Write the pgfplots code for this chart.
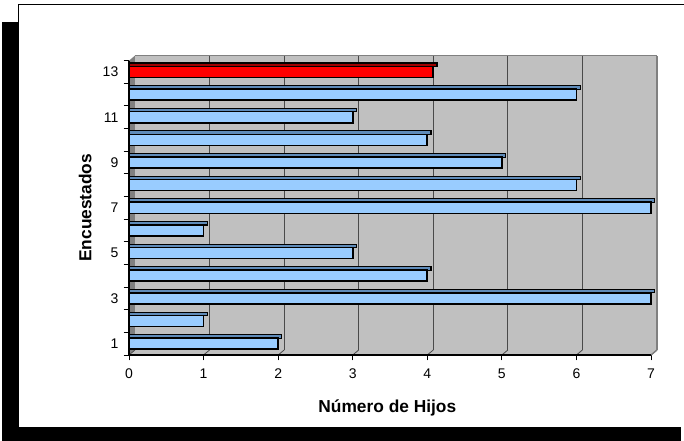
\documentclass[border=0pt]{standalone}
\usepackage{pgfplots}
\pgfplotsset{compat=1.18}
\usepackage{pgfplotstable}
\usepackage{fontspec}
\setmainfont{Liberation Sans}
\definecolor{barblue}{HTML}{99CCFF}
\definecolor{bartop}{HTML}{5F8BB9}
\definecolor{barred}{HTML}{FF0000}
\definecolor{redtop}{HTML}{A00000}
\definecolor{wall}{HTML}{C0C0C0}
\definecolor{sidewall}{HTML}{808080}
\definecolor{gridc}{HTML}{4A4A4A}
\pgfplotstableread{
cat val
1 2
2 1
3 7
4 4
5 3
6 1
7 7
8 6
9 5
10 4
11 3
12 6
}\datatab
\pgfplotstableread{
cat val
13 4.08
}\avgtab
\begin{document}
\begin{tikzpicture}
\useasboundingbox (0,0) rectangle (513pt,330.75pt);
\begin{scope}[shift={(0pt,330.75pt)},x=0.75pt,y=-0.75pt]
  \fill[black] (2,22) rectangle (681,441);
  \fill[white] (18,5) rectangle (684,427);
  \draw[black,line width=0.75pt] (684,5) -- (18,5) -- (18,427);
\end{scope}
\begin{axis}[
  at={(96.75pt,64.5pt)}, anchor=south west,
  scale only axis, width=391.5pt, height=220.8pt,
  xmin=0, xmax=7, ymin=0.5, ymax=13.5,
  clip=false,
  axis line style={draw=none},
  xtick={0,1,...,7},
  ytick={0.5,1.5,...,13.5},
  yticklabels={},
  extra y ticks={1,3,5,7,9,11,13},
  extra y tick style={major tick length=0pt, yticklabel style={xshift=-4.5pt}},
  ytick style={black,line width=0.6pt},
  xtick style={black,line width=0.6pt},
  xtick pos=bottom, ytick pos=left,
  tick align=outside, major tick length=4pt,
  ticklabel style={font=\fontsize{10.5}{12}\selectfont},
  /pgf/number format/assume math mode=true,
  xticklabel style={yshift=-3pt},
  xlabel={Número de Hijos},
  ylabel={Encuestados},
  xlabel style={font=\bfseries\fontsize{13}{15}\selectfont, at={(axis description cs:0.5,0)}, anchor=center, yshift=-39.5pt, xshift=-2pt},
  ylabel style={font=\bfseries\fontsize{13}{15}\selectfont, at={(axis description cs:-0.084,0.5)}, anchor=center},
]
% 3D walls
\fill[wall] (axis cs:0.08,0.72) rectangle (axis cs:7.08,13.72);
\fill[sidewall] (axis cs:0,0.5) -- (axis cs:0.08,0.72) -- (axis cs:0.08,13.72) -- (axis cs:0,13.5) -- cycle;
\fill[wall] (axis cs:0,0.5) -- (axis cs:7,0.5) -- (axis cs:7.08,0.72) -- (axis cs:0.08,0.72) -- cycle;
\pgfplotsinvokeforeach{1,...,6}{
  \draw[gridc,line width=0.8pt] (axis cs:#1.08,0.72) -- (axis cs:#1.08,13.72);
}
\pgfplotsinvokeforeach{0,...,7}{
  \draw[gridc,line width=0.6pt] (axis cs:#1,0.5) -- (axis cs:#1.08,0.72);
}
\draw[sidewall,line width=1.5pt] (axis cs:7.08,0.72) -- (axis cs:7.08,13.72);
\draw[sidewall,line width=0.8pt] (axis cs:0.08,13.72) -- (axis cs:7.08,13.72);
\draw[sidewall,line width=1pt] (axis cs:7,0.5) -- (axis cs:7.08,0.72);
\draw[black,line width=0.8pt] (axis cs:0,0.5) -- (axis cs:7,0.5);
\draw[black,line width=0.8pt] (axis cs:0,0.5) -- (axis cs:0,13.5);
% bars: top faces
\addplot[xbar, bar width=2.6pt, bar shift=5.4pt, fill=bartop, draw=black, line width=0.8pt]
  table[y=cat, x expr=\thisrow{val}+0.05] {\datatab};
\addplot[xbar, bar width=2.6pt, bar shift=5.4pt, fill=redtop, draw=black, line width=0.8pt]
  table[y=cat, x expr=\thisrow{val}+0.05] {\avgtab};
% bars: front faces
\addplot[xbar, bar width=8.3pt, bar shift=0pt, fill=barblue, draw=black, line width=1.2pt]
  table[y=cat, x=val] {\datatab};
\addplot[xbar, bar width=8.3pt, bar shift=0pt, fill=barred, draw=black, line width=1.2pt]
  table[y=cat, x=val] {\avgtab};
\end{axis}
\end{tikzpicture}
\end{document}
